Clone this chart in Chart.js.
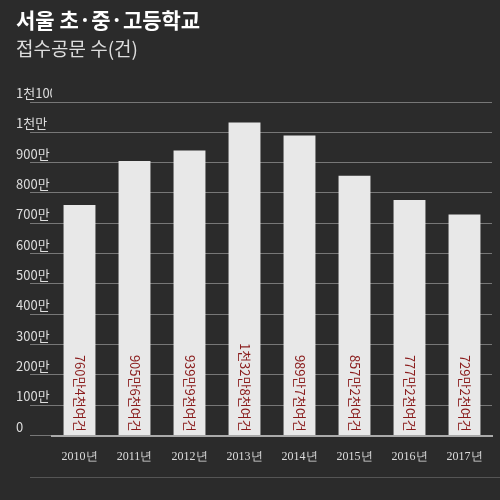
<!DOCTYPE html><html><head><meta charset="utf-8">
<script src="https://cdn.jsdelivr.net/npm/chart.js@4"></script>
<style>html,body{margin:0;background:#2b2b2b;}#w{position:relative;width:500px;height:500px;}
.t1{position:absolute;left:16px;top:4px;color:#fff;font:bold 21px "Noto Sans CJK KR";}
.t2{position:absolute;left:16px;top:34px;color:#ddd;font:19px "Noto Sans CJK KR";}
.bl{position:absolute;left:30px;right:0;top:477px;height:1px;background:#555;}</style></head><body>
<div id="w"><div class="t1">서울 초·중·고등학교</div><div class="t2">접수공문 수(건)</div><div class="bl"></div><canvas id="c" width="500" height="500"></canvas></div>
<script>
const categories=["2010년","2011년","2012년","2013년","2014년","2015년","2016년","2017년"];
const values=[760.4,905.6,939.9,1032.8,989.7,857.2,777.2,729.2];
const valueLabels=["760만4천여건","905만6천여건","939만9천여건","1천32만8천여건","989만7천여건","857만2천여건","777만2천여건","729만2천여건"];
const tickLabels={0:"0",100:"100만",200:"200만",300:"300만",400:"400만",500:"500만",600:"600만",700:"700만",800:"800만",900:"900만",1000:"1천만",1100:"1천100만"};
const inBar={id:'inBar',afterDatasetsDraw(ch){const c=ch.ctx,m=ch.getDatasetMeta(0);c.save();c.fillStyle='#8a1c1c';c.font='13px "Noto Sans CJK KR"';c.textBaseline='middle';
m.data.forEach((b,i)=>{c.save();c.translate(b.x,ch.scales.y.getPixelForValue(0)-4);c.rotate(Math.PI/2);c.textAlign='right';c.fillText(valueLabels[i],0,0);c.restore();});c.restore();}};
new Chart(document.getElementById('c'),{type:'bar',data:{labels:categories,datasets:[{data:values,backgroundColor:'#e8e8e8',barPercentage:0.58,categoryPercentage:1}]},
options:{responsive:false,animation:false,layout:{padding:{top:102,right:8,bottom:30,left:16}},plugins:{legend:{display:false},tooltip:{enabled:false}},
scales:{y:{min:0,max:1100,afterFit(s){s.width=36;},ticks:{stepSize:100,crossAlign:'far',padding:0,labelOffset:-9,color:'#ddd',font:{size:13,family:'"Noto Sans CJK KR"'},callback:v=>tickLabels[v]},grid:{color:'#777',lineWidth:1,drawTicks:true,tickLength:22,tickColor:'#777'},border:{display:false}},
x:{ticks:{color:'#ddd',font:{size:12,family:'"Liberation Serif"'},padding:6},grid:{display:false},border:{color:'#aaa',width:2}}}},plugins:[inBar]});
</script></body></html>
